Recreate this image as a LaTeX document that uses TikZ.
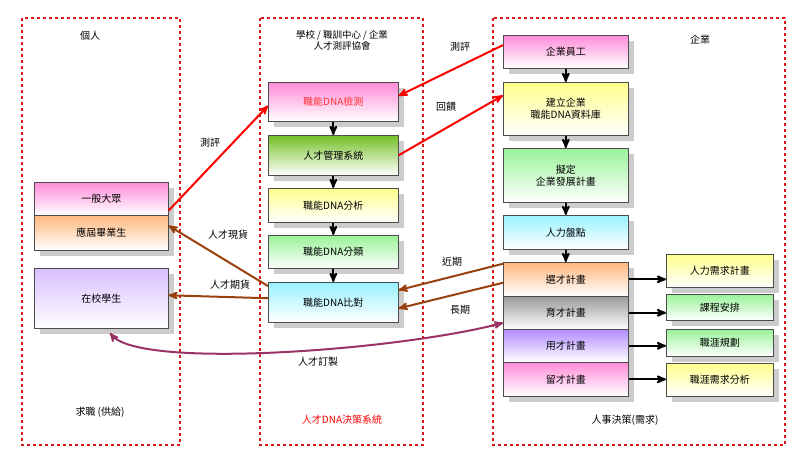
\documentclass[tikz,border=0pt]{standalone}
\usepackage{fontspec}
\setmainfont{Noto Sans CJK TC}
\usetikzlibrary{positioning, calc, shadows}
\usetikzlibrary{arrows}

\definecolor{frame}{rgb}{0.85,0.1,0.1}
\definecolor{darkbrown}{rgb}{0.6,0.25,0.05}
\definecolor{plum}{rgb}{0.6,0.2,0.4}
\definecolor{cpink}{rgb}{1.0,0.55,0.85}
\definecolor{cyellow}{rgb}{1.0,1.0,0.55}
\definecolor{cgreen}{rgb}{0.6,0.95,0.6}
\definecolor{cdgreen}{rgb}{0.45,0.75,0.15}
\definecolor{ccyan}{rgb}{0.6,0.95,1.0}
\definecolor{corange}{rgb}{1.0,0.72,0.5}
\definecolor{cgray}{rgb}{0.6,0.6,0.6}
\definecolor{cpurple}{rgb}{0.7,0.55,1.0}
\definecolor{cviolet}{rgb}{0.85,0.75,1.0}

\tikzset{
  boxnode/.style={draw=black!70, line width=0.6pt, top color=#1, bottom color=white,
    drop shadow={shadow xshift=6pt, shadow yshift=-6pt, fill=black!20, opacity=1},
    font=\fontsize{10}{12}\selectfont, align=center, inner sep=0pt},
  zone/.style={draw=frame, dashed, line width=1.2pt},
  redarr/.style={->, >=stealth', draw=red, line width=2pt},
  brownarr/.style={->, >=stealth', draw=darkbrown, line width=2pt},
  blackarr/.style={->, >=stealth', draw=black, line width=2pt},
  lbl/.style={font=\fontsize{10}{12}\selectfont, align=center}
}
% name, color, x1, y1, x2, y2
\newcommand{\mkbox}[6]{%
  \node[boxnode=#2, minimum width={(#5-#3)*1pt}, minimum height={(#6-#4)*1pt}, anchor=north west] (#1) at (#3,#4)}

\begin{document}
\begin{tikzpicture}[x=1pt, y=-1pt]
        \useasboundingbox (0,0) rectangle (800,463);

        % Zones
        \draw[zone] (22,18) rectangle (180,445);
        \draw[zone] (260,18) rectangle (423,445);
        \draw[zone] (493,18) rectangle (785,445);

        % Titles
        \node[lbl] (tperson) at (90,36) {個人};
        \node[lbl] (tsupply) at (100,412) {求職 (供給)};
        \node[lbl, font=\fontsize{9.5}{11}\selectfont] (tschool) at (342,40) {學校 / 職訓中心 / 企業\\人才測評協會};
        \node[lbl, text=red] (tsystem) at (342,420) {人才DNA決策系統};
        \node[lbl] (tfirm) at (700,40) {企業};
        \node[lbl] (tdemand) at (625,420) {人事決策(需求)};

        % Left boxes
        \mkbox{public}{cpink}{34}{182}{168}{215} {一般大眾};
        \mkbox{grad}{corange}{34}{215}{168}{250} {應屆畢業生};
        \mkbox{student}{cviolet}{34}{268}{168}{328} {在校學生};

        % Middle boxes
        \mkbox{test}{cpink}{268}{82}{398}{121} {\textcolor{red!80}{職能DNA檢測}};
        \mkbox{mgmt}{cdgreen}{268}{135}{398}{175} {人才管理系統};
        \mkbox{anal}{cyellow}{268}{188}{398}{222} {職能DNA分析};
        \mkbox{class}{cgreen}{268}{235}{398}{268} {職能DNA分類};
        \mkbox{comp}{ccyan}{268}{282}{398}{322} {職能DNA比對};

        % Right boxes
        \mkbox{staff}{cpink}{503}{35}{628}{68} {企業員工};
        \mkbox{base}{cyellow}{503}{82}{628}{135} {建立企業\\職能DNA資料庫};
        \mkbox{plan}{cgreen}{503}{148}{628}{202} {擬定\\企業發展計畫};
        \mkbox{count}{ccyan}{503}{215}{628}{249} {人力盤點};
        \mkbox{pick}{corange}{503}{262}{628}{296} {選才計畫};
        \mkbox{train}{cgray}{503}{296}{628}{329} {育才計畫};
        \mkbox{use}{cpurple}{503}{329}{628}{362} {用才計畫};
        \mkbox{keep}{cpink}{503}{362}{628}{396} {留才計畫};

        % Side boxes
        \mkbox{need}{cyellow}{666}{254}{773}{287} {人力需求計畫};
        \mkbox{course}{cgreen}{666}{294}{773}{320} {課程安排};
        \mkbox{career}{cgreen}{666}{329}{773}{356} {職涯規劃};
        \mkbox{cneed}{cyellow}{666}{363}{773}{396} {職涯需求分析};

        % Vertical chains
        \foreach \a/\b in {test/mgmt, mgmt/anal, anal/class, class/comp, staff/base, base/plan, plan/count, count/pick} {
            \draw[blackarr] (\a.south) -- (\b.north);
        }
        \foreach \a/\b in {pick/need, train/course, use/career, keep/cneed} {
            \draw[blackarr] (\a.east) -- (\b.west |- \a.east);
        }

        % Red connectors
        \draw[redarr] ($(public.north east)!0.85!(public.south east)$) -- ($(test.north west)!0.6!(test.south west)$);
        \node[lbl] (lblmeas1) at (210,143) {測評};
        \draw[redarr] ($(staff.north west)!0.3!(staff.south west)$) -- ($(test.north east)!0.35!(test.south east)$);
        \node[lbl] (lblmeas) at (460,47) {測評};
        \draw[redarr] (mgmt.east) -- ($(base.north west)!0.25!(base.south west)$);
        \node[lbl] (lblback) at (446,107) {回饋};

        % Brown connectors
        \draw[brownarr] ($(comp.north west)!0.1!(comp.south west)$) -- ($(grad.north east)!0.3!(grad.south east)$);
        \node[lbl] (lblnow) at (228,235) {人才現貨};
        \draw[brownarr] ($(comp.north west)!0.4!(comp.south west)$) -- ($(student.north east)!0.45!(student.south east)$);
        \node[lbl] (lblfut) at (230,285) {人才期貨};
        \draw[brownarr] ($(pick.north west)!0.05!(pick.south west)$) -- ($(comp.north east)!0.2!(comp.south east)$);
        \node[lbl] (lblnear) at (452,262) {近期};
        \draw[brownarr] ($(pick.north west)!0.6!(pick.south west)$) -- ($(comp.north east)!0.65!(comp.south east)$);
        \node[lbl] (lbllong) at (460,310) {長期};

        % Purple connector
        \draw[<->, >=stealth', draw=plum, line width=2pt] (110,333) .. controls (140,370) and (400,350) .. ($(train.north west)!0.8!(train.south west)$);
        \node[lbl] (lblmade) at (318,362) {人才訂製};
    \end{tikzpicture}
\end{document}
